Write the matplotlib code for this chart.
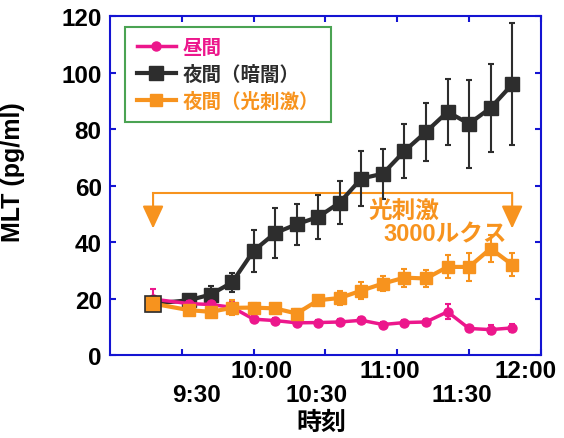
import matplotlib.pyplot as plt
import matplotlib.transforms as mtransforms

plt.rcParams['font.family'] = ['Liberation Sans', 'Noto Sans CJK JP', 'DejaVu Sans']
plt.rcParams['font.weight'] = 'bold'

# minutes after 9:00
minutes = [18, 33, 42, 51, 60, 69, 78, 87, 96, 105, 114, 123, 132, 141, 150, 159, 168]

day = [19.8, 18.2, 17.9, 16.9, 12.7, 12.2, 11.4, 11.5, 11.7, 12.3, 10.8, 11.5, 11.7, 15.3, 9.4, 9.0, 9.6]
day_err = [3.5, 1.0, 1.0, 2.0, 1.0, 1.0, 1.0, 1.0, 1.0, 1.0, 1.0, 1.0, 1.0, 2.6, 1.0, 1.6, 1.5]

dark = [18.2, 19.4, 21.4, 25.7, 36.9, 43.2, 46.3, 48.9, 54.0, 62.5, 64.2, 72.2, 79.0, 86.1, 81.9, 87.5, 95.8]
dark_err = [1.0, 2.0, 3.0, 3.5, 7.4, 8.9, 7.3, 7.7, 7.5, 9.6, 8.9, 9.6, 10.2, 11.8, 15.6, 15.5, 21.6]

light = [18.2, 15.9, 15.3, 16.7, 16.8, 16.5, 14.7, 19.4, 20.2, 22.8, 25.3, 27.4, 27.1, 31.2, 31.2, 37.7, 32.0]
light_err = [1.0, 1.0, 1.5, 2.7, 1.5, 1.5, 1.5, 1.5, 2.4, 3.1, 2.8, 3.2, 3.1, 4.1, 5.1, 4.8, 4.0]

labels = ['昼間', '夜間（暗闇）', '夜間（光刺激）']
major_ticks = [60, 120, 180]
major_labels = ['10:00', '11:00', '12:00']
minor_ticks = [30, 90, 150]
minor_labels = ['9:30', '10:30', '11:30']

pink = '#EC178C'
black = '#2d2d2d'
orange = '#F7931E'
blue = '#1414D2'

fig = plt.figure(figsize=(5.64, 4.39), dpi=100)
ax = fig.add_axes([0.195, 0.189, 0.764, 0.772])

# black (dark)
ax.errorbar(minutes, dark, yerr=dark_err, fmt='none', ecolor=black, elinewidth=1.5, capsize=2.5, capthick=1.5, zorder=2)
l_dark, = ax.plot(minutes, dark, color=black, lw=3, marker='s', ms=10, zorder=2)
# pink (day)
ax.errorbar(minutes, day, yerr=day_err, fmt='none', ecolor=pink, elinewidth=1.5, capsize=2.5, capthick=1.5, zorder=3)
l_day, = ax.plot(minutes, day, color=pink, lw=2.5, marker='o', ms=6.5, zorder=3)
# orange (light)
ax.errorbar(minutes, light, yerr=light_err, fmt='none', ecolor=orange, elinewidth=1.5, capsize=2.5, capthick=1.5, zorder=4)
l_light, = ax.plot(minutes, light, color=orange, lw=3, marker='s', ms=9, zorder=4)
ax.plot(minutes[:1], light[:1], ls='none', marker='s', ms=11, mfc=orange, mec=black, mew=1.2, zorder=5)

# light stimulation bracket
bracket_y = 57.4
tip_y = 44.8
ax.plot([minutes[0], minutes[-1]], [bracket_y, bracket_y], color=orange, lw=1.5, zorder=1)
for xm in (minutes[0], minutes[-1]):
    ax.annotate('', xy=(xm, tip_y), xytext=(xm, bracket_y),
                arrowprops=dict(arrowstyle='-|>,head_length=14,head_width=6.5', mutation_scale=1,
                                color=orange, lw=1.5, shrinkA=0, shrinkB=0))
ax.text(108, 51.2, '光刺激', color=orange, fontsize=17, fontweight='bold', ha='left', va='center')
ax.text(166, 43, '3000ルクス', color=orange, fontsize=17, fontweight='bold', ha='right', va='center')

ax.set_xlim(0, 180)
ax.set_ylim(0, 120)
ax.set_yticks(range(0, 121, 20))
ax.set_xticks(major_ticks)
ax.set_xticklabels(major_labels)
ax.set_xticks(minor_ticks, minor=True)
ax.set_xticklabels(minor_labels, minor=True)

for s in ax.spines.values():
    s.set_color(blue)
    s.set_linewidth(1.5)
ax.tick_params(which='both', direction='in', length=4, width=1.5, color=blue,
               top=True, right=True, labelsize=17.5, labelcolor='black')
ax.tick_params(axis='x', which='major', pad=3)
ax.tick_params(axis='x', which='minor', pad=20)
ax.tick_params(axis='y', pad=6)
for t in ax.get_xticklabels(which='both') + ax.get_yticklabels():
    t.set_fontweight('bold')

# the staggered time labels sit slightly off their ticks in the original
shifts = {'9:30': 15, '10:00': 8, '10:30': -9, '11:00': -7, '11:30': -7, '12:00': -15}
for t in ax.get_xticklabels(which='both'):
    dx = shifts.get(t.get_text(), 0)
    t.set_transform(t.get_transform() + mtransforms.ScaledTranslation(dx / 100, 0, fig.dpi_scale_trans))

ax.set_ylabel('MLT (pg/ml)', fontsize=18, fontweight='bold')
ax.yaxis.set_label_coords(-0.197, 0.543)
ax.set_xlabel('時刻', fontsize=18, fontweight='bold')
ax.xaxis.set_label_coords(0.49, -0.163)

leg = ax.legend([l_day, l_dark, l_light], labels, loc='upper left', bbox_to_anchor=(0.035, 0.968),
                borderaxespad=0, prop={'size': 14, 'weight': 'bold'}, handlelength=2.0,
                handletextpad=0.35, labelspacing=0.4, borderpad=0.6, frameon=True, fancybox=False)
leg.get_frame().set_edgecolor('#1E8C28')
leg.get_frame().set_linewidth(1.5)
for txt, c in zip(leg.get_texts(), [pink, black, orange]):
    txt.set_color(c)

fig.savefig('out.png', dpi=100)
